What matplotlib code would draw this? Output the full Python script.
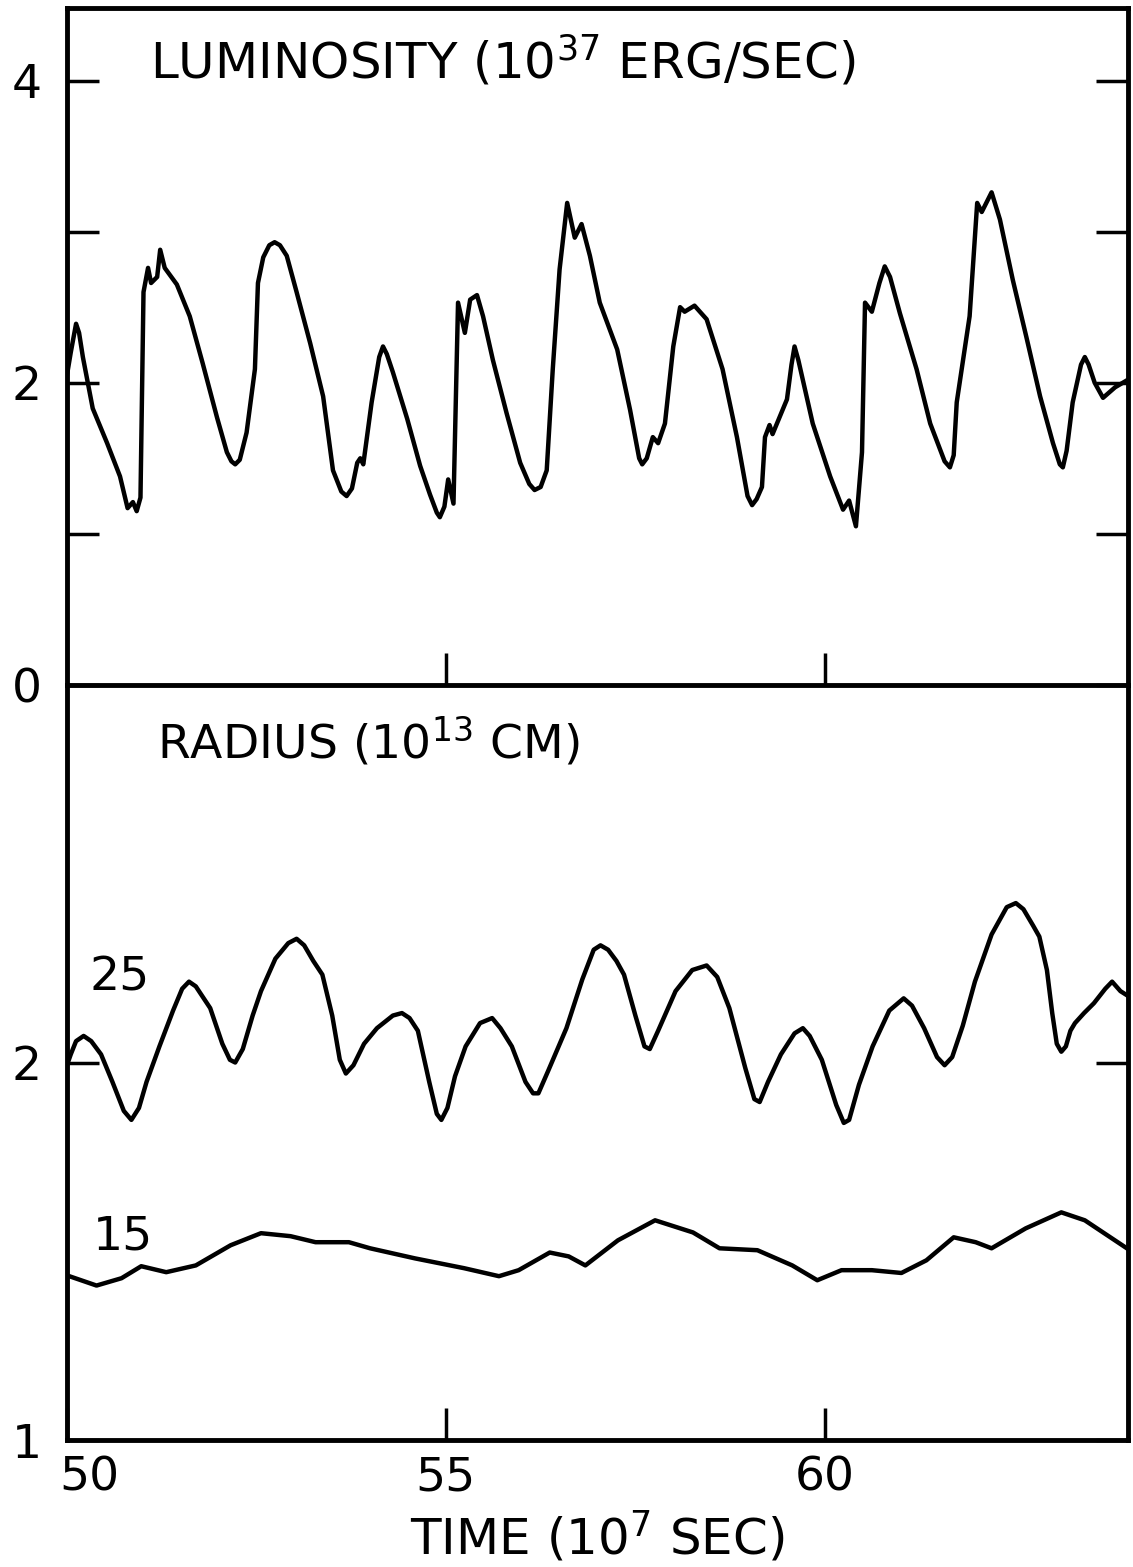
import matplotlib
matplotlib.use('Agg')
import matplotlib.pyplot as plt
from matplotlib.transforms import ScaledTranslation

# luminosity (10^37 erg/s) vs time (10^7 s)
lum_t = [50.00, 50.05, 50.12, 50.16, 50.21, 50.34, 50.53, 50.70, 50.80, 50.87, 50.92,
         50.97, 51.01, 51.07, 51.11, 51.19, 51.23, 51.29, 51.45, 51.62, 51.79, 51.98,
         52.11, 52.17, 52.22, 52.28, 52.37, 52.48, 52.52, 52.59, 52.67, 52.74, 52.81,
         52.90, 53.03, 53.21, 53.38, 53.51, 53.62, 53.69, 53.76, 53.83, 53.87, 53.91,
         54.02, 54.12, 54.17, 54.22, 54.30, 54.49, 54.66, 54.79, 54.88, 54.92, 54.98,
         55.03, 55.10, 55.16, 55.25, 55.32, 55.41, 55.49, 55.62, 55.80, 55.98, 56.10,
         56.17, 56.25, 56.33, 56.41, 56.50, 56.60, 56.70, 56.79, 56.90, 57.03, 57.26,
         57.43, 57.55, 57.59, 57.65, 57.73, 57.80, 57.89, 58.00, 58.09, 58.15, 58.28,
         58.44, 58.65, 58.84, 58.98, 59.04, 59.10, 59.17, 59.21, 59.27, 59.31, 59.50,
         59.56, 59.60, 59.65, 59.84, 60.07, 60.24, 60.32, 60.41, 60.49, 60.53, 60.62,
         60.72, 60.79, 60.86, 60.99, 61.21, 61.39, 61.58, 61.65, 61.70, 61.74, 61.91,
         62.01, 62.07, 62.20, 62.31, 62.48, 62.66, 62.84, 63.01, 63.10, 63.14, 63.19,
         63.27, 63.38, 63.43, 63.48, 63.56, 63.67, 63.83, 64.00]
lum_v = [2.05, 2.20, 2.39, 2.33, 2.17, 1.83, 1.60, 1.38, 1.17, 1.21, 1.15,
         1.24, 2.60, 2.76, 2.66, 2.70, 2.88, 2.76, 2.65, 2.44, 2.13, 1.77,
         1.54, 1.48, 1.46, 1.49, 1.67, 2.09, 2.66, 2.83, 2.91, 2.93, 2.91,
         2.84, 2.60, 2.26, 1.91, 1.42, 1.28, 1.25, 1.30, 1.47, 1.50, 1.46,
         1.87, 2.17, 2.24, 2.19, 2.07, 1.76, 1.45, 1.26, 1.14, 1.11, 1.18,
         1.36, 1.20, 2.53, 2.33, 2.55, 2.58, 2.44, 2.15, 1.80, 1.47, 1.33,
         1.29, 1.31, 1.42, 2.09, 2.75, 3.19, 2.96, 3.05, 2.84, 2.53, 2.22,
         1.82, 1.50, 1.46, 1.50, 1.64, 1.60, 1.73, 2.24, 2.50, 2.47, 2.51,
         2.42, 2.09, 1.64, 1.25, 1.19, 1.23, 1.31, 1.64, 1.72, 1.66, 1.89,
         2.12, 2.24, 2.15, 1.73, 1.38, 1.16, 1.22, 1.05, 1.54, 2.53, 2.47,
         2.66, 2.77, 2.70, 2.46, 2.09, 1.73, 1.48, 1.44, 1.52, 1.87, 2.44,
         3.19, 3.13, 3.26, 3.08, 2.68, 2.30, 1.91, 1.60, 1.46, 1.44, 1.55,
         1.87, 2.12, 2.17, 2.12, 2.00, 1.90, 1.97, 2.02]

# radius (10^13 cm), 25 solar mass model
r25_t = [50.00, 50.05, 50.12, 50.22, 50.32, 50.45, 50.60, 50.75, 50.85, 50.95, 51.05,
         51.22, 51.40, 51.52, 51.61, 51.70, 51.89, 52.05, 52.15, 52.22, 52.32, 52.45,
         52.56, 52.75, 52.92, 53.03, 53.13, 53.25, 53.37, 53.50, 53.60, 53.68, 53.78,
         53.92, 54.09, 54.30, 54.42, 54.52, 54.63, 54.78, 54.88, 54.94, 55.02, 55.12,
         55.26, 55.45, 55.61, 55.72, 55.87, 56.05, 56.15, 56.22, 56.35, 56.59, 56.80,
         56.95, 57.04, 57.14, 57.25, 57.35, 57.50, 57.62, 57.69, 57.80, 58.03, 58.25,
         58.44, 58.58, 58.74, 58.95, 59.07, 59.14, 59.25, 59.42, 59.60, 59.71, 59.80,
         59.96, 60.15, 60.25, 60.32, 60.45, 60.63, 60.85, 61.04, 61.15, 61.31, 61.48,
         61.58, 61.68, 61.82, 61.98, 62.20, 62.40, 62.52, 62.62, 62.75, 62.83, 62.93,
         63.00, 63.06, 63.12, 63.18, 63.24, 63.30, 63.42, 63.55, 63.70, 63.79, 63.90,
         64.00]
r25_v = [1.99, 2.03, 2.08, 2.10, 2.08, 2.03, 1.93, 1.83, 1.80, 1.84, 1.93,
         2.06, 2.20, 2.29, 2.32, 2.30, 2.21, 2.07, 2.01, 2.00, 2.05, 2.18,
         2.28, 2.42, 2.49, 2.51, 2.48, 2.41, 2.35, 2.18, 2.01, 1.96, 1.99,
         2.07, 2.13, 2.18, 2.19, 2.17, 2.12, 1.93, 1.82, 1.80, 1.84, 1.95,
         2.06, 2.15, 2.17, 2.13, 2.06, 1.93, 1.89, 1.89, 1.97, 2.13, 2.33,
         2.46, 2.48, 2.46, 2.41, 2.35, 2.18, 2.06, 2.05, 2.12, 2.28, 2.37,
         2.39, 2.34, 2.21, 1.98, 1.87, 1.86, 1.93, 2.03, 2.11, 2.13, 2.10,
         2.01, 1.85, 1.79, 1.80, 1.92, 2.06, 2.20, 2.25, 2.22, 2.13, 2.02,
         1.99, 2.02, 2.14, 2.32, 2.53, 2.66, 2.68, 2.65, 2.57, 2.52, 2.37,
         2.19, 2.07, 2.04, 2.06, 2.12, 2.15, 2.19, 2.23, 2.29, 2.32, 2.28,
         2.26]

# radius (10^13 cm), 15 solar mass model
r15_t = [50.00, 50.39, 50.72, 50.98, 51.31, 51.70, 52.16, 52.56, 52.95, 53.28, 53.72,
         54.00, 54.59, 55.24, 55.70, 55.96, 56.37, 56.62, 56.84, 57.27, 57.76, 58.26,
         58.61, 59.11, 59.57, 59.90, 60.22, 60.62, 61.01, 61.34, 61.70, 61.99, 62.20,
         62.65, 63.12, 63.43, 64.00]
r15_v = [1.353, 1.328, 1.346, 1.376, 1.361, 1.378, 1.430, 1.462, 1.454, 1.438, 1.438,
         1.422, 1.396, 1.371, 1.351, 1.366, 1.411, 1.401, 1.378, 1.443, 1.497, 1.464,
         1.422, 1.417, 1.378, 1.341, 1.366, 1.366, 1.359, 1.391, 1.451, 1.438, 1.422,
         1.475, 1.519, 1.497, 1.420]

lum_ticks = [0, 1, 2, 3, 4]
lum_labels = ['0', '', '2', '', '4']
rad_ticks = [1, 2]
rad_labels = ['1', '2']
time_ticks = [50, 55, 60]
time_labels = ['50', '55', '60']

plt.rcParams['font.family'] = 'DejaVu Sans'
LW = 3.2

fig = plt.figure(figsize=(11.33, 15.67), dpi=100)
ax1 = fig.add_axes([0.0591, 0.5629, 0.9365, 0.432])
ax2 = fig.add_axes([0.0591, 0.0810, 0.9365, 0.4819])
ax2.patch.set_visible(False)  # keep the shared boundary line full width

for ax in (ax1, ax2):
    for sp in ax.spines.values():
        sp.set_linewidth(3.5)
    ax.set_xlim(50, 64)
    ax.tick_params(direction='in', length=23, width=2.5, labelsize=34,
                   right=True, top=False, labelright=False, pad=18)

# top panel
ax1.plot(lum_t, lum_v, color='black', lw=LW, solid_joinstyle='round')
ax1.set_ylim(0, 4.48)
ax1.set_yticks(lum_ticks, lum_labels)
ax1.set_xticks([55, 60])
ax1.tick_params(axis='x', labelbottom=False)
ax1.text(0.078, 0.8966, 'LUMINOSITY (10$^{37}$ ERG/SEC)', transform=ax1.transAxes,
         fontsize=36, va='baseline', ha='left')

# bottom panel
ax2.plot(r25_t, r25_v, color='black', lw=LW, solid_joinstyle='round')
ax2.plot(r15_t, r15_v, color='black', lw=LW, solid_joinstyle='round')
ax2.set_yscale('log')
ax2.set_ylim(1, 4)
ax2.set_yticks(rad_ticks, rad_labels)
ax2.yaxis.set_minor_locator(plt.NullLocator())
ax2.set_xticks(time_ticks, time_labels)
ax2.tick_params(axis='x', pad=11)
ax2.spines['top'].set_visible(False)
ax2.text(0.085, 0.903, 'RADIUS (10$^{13}$ CM)', transform=ax2.transAxes,
         fontsize=34, va='baseline', ha='left')
ax2.text(0.021, 0.596, '25', transform=ax2.transAxes, fontsize=34, va='baseline')
ax2.text(0.024, 0.252, '15', transform=ax2.transAxes, fontsize=34, va='baseline')

# the "50" label sits to the right of the corner
lab50 = ax2.get_xticklabels()[0]
lab50.set_transform(lab50.get_transform() + ScaledTranslation(0.22, 0, fig.dpi_scale_trans))

fig.text(0.527, 1 - 1555 / 1567, 'TIME (10$^{7}$ SEC)', fontsize=36,
         ha='center', va='baseline')

fig.savefig('out.png', dpi=100)
